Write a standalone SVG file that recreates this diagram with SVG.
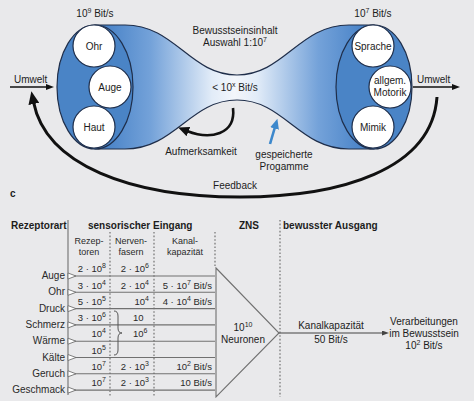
<svg xmlns="http://www.w3.org/2000/svg" width="474" height="401" viewBox="0 0 474 401">
<defs>
<style>
text{font-family:"Liberation Sans",Arial,sans-serif;fill:#1c1c1c}
.t10{font-size:10px}
.lab{font-size:10px;text-anchor:middle}
.b{font-size:10px;font-weight:bold}
.sub{font-size:9px;text-anchor:middle;fill:#2a2a2a}
.v{font-size:9.5px;text-anchor:end;fill:#2a2a2a}
.vs{font-size:9.5px;text-anchor:start;fill:#2a2a2a}
.rl{font-size:10px;text-anchor:end;fill:#2a2a2a}
.node{fill:#fff;stroke:#1f2e4a;stroke-width:1.2}
.ell{fill:#4a84c6;stroke:#1f2e4a;stroke-width:1.2}
.grid{stroke:#707070;stroke-width:1.1;fill:none}
.dot{stroke:#666;stroke-width:1.1;stroke-dasharray:1.6 2;fill:none}
.mk{fill:#fff;stroke:#707070;stroke-width:0.9}
</style>
<linearGradient id="funnelGrad" gradientUnits="userSpaceOnUse" x1="95" y1="0" x2="374" y2="0">
<stop offset="0" stop-color="#3f7cc4"/>
<stop offset="0.2" stop-color="#74a2d9"/>
<stop offset="0.42" stop-color="#e2ecf8"/>
<stop offset="0.5" stop-color="#f3f6fb"/>
<stop offset="0.58" stop-color="#e2ecf8"/>
<stop offset="0.8" stop-color="#74a2d9"/>
<stop offset="1" stop-color="#3f7cc4"/>
</linearGradient>
<marker id="headBig" markerUnits="userSpaceOnUse" markerWidth="13" markerHeight="11" refX="2" refY="5.5" orient="auto">
<path d="M0,0 L13,5.5 L0,11 z" fill="#111"/>
</marker>
<marker id="headMid" markerUnits="userSpaceOnUse" markerWidth="11" markerHeight="10" refX="1.5" refY="5" orient="auto">
<path d="M0,0 L11,5 L0,10 z" fill="#111"/>
</marker>
<marker id="headBlue" markerUnits="userSpaceOnUse" markerWidth="10" markerHeight="9" refX="1.5" refY="4.5" orient="auto">
<path d="M0,0 L10,4.5 L0,9 z" fill="#3d88cc"/>
</marker>
<marker id="headSmall" markerUnits="userSpaceOnUse" markerWidth="8" markerHeight="6" refX="1" refY="3" orient="auto">
<path d="M0,0 L8,3 L0,6 z" fill="#111"/>
</marker>
<marker id="headGrey" markerUnits="userSpaceOnUse" markerWidth="7" markerHeight="5" refX="1" refY="2.5" orient="auto">
<path d="M0,0 L7,2.5 L0,5 z" fill="#444"/>
</marker>
</defs>

<rect x="0" y="0" width="474" height="401" fill="#e9e9eb"/>

<!-- funnel body -->
<g id="funnel">
<path d="M95,25 L125,25 C175,25 190,75 237,75 C284,75 299,25 349,25 L374,25 L374,149 L349,149 C299,149 284,100 237,100 C190,100 175,149 125,149 L95,149 Z" fill="url(#funnelGrad)" stroke="#1f2e4a" stroke-width="1.2"/>
<text class="lab" x="235" y="34">Bewusstseinsinhalt</text>
<text class="lab" x="235" y="46">Auswahl 1:10<tspan dy="-4" font-size="7">7</tspan></text>
<text class="lab" x="235" y="91">&lt; 10<tspan dy="-4" font-size="7">x</tspan><tspan dy="4"> Bit/s</tspan></text>
</g>

<g id="input-ellipse">
<ellipse class="ell" cx="95" cy="87" rx="38" ry="62"/>
<text class="lab" x="95" y="17">10<tspan dy="-4" font-size="7">9</tspan><tspan dy="4"> Bit/s</tspan></text>
</g>
<g id="node-ohr"><circle class="node" cx="94" cy="46" r="21"/><text class="lab" x="94" y="50">Ohr</text></g>
<g id="node-auge"><circle class="node" cx="110" cy="87" r="21"/><text class="lab" x="110" y="91">Auge</text></g>
<g id="node-haut"><circle class="node" cx="94" cy="127" r="21"/><text class="lab" x="94" y="131">Haut</text></g>

<g id="output-ellipse">
<ellipse class="ell" cx="374" cy="87" rx="38" ry="62"/>
<text class="lab" x="373" y="17">10<tspan dy="-4" font-size="7">7</tspan><tspan dy="4"> Bit/s</tspan></text>
</g>
<g id="node-sprache"><circle class="node" cx="373" cy="46" r="21"/><text class="lab" x="373" y="50">Sprache</text></g>
<g id="node-motorik"><circle class="node" cx="390" cy="87" r="21"/><text class="lab" x="390" y="84">allgem.</text><text class="lab" x="390" y="96">Motorik</text></g>
<g id="node-mimik"><circle class="node" cx="373" cy="127" r="21"/><text class="lab" x="373" y="131">Mimik</text></g>

<g id="label-umwelt-in"><text class="t10" x="14" y="83">Umwelt</text></g>
<g id="label-umwelt-out"><text class="t10" x="417" y="83">Umwelt</text></g>
<g id="label-aufmerksamkeit"><text class="lab" x="201" y="155">Aufmerksamkeit</text></g>
<g id="label-programme"><text class="lab" x="284" y="158">gespeicherte</text><text class="lab" x="284" y="170">Progamme</text></g>
<g id="label-feedback"><text class="lab" x="235" y="189">Feedback</text></g>
<text x="10" y="197" font-size="10" font-weight="bold">c</text>

<g id="connectors">
<path d="M10,87 L47,87" stroke="#111" stroke-width="1.5" fill="none" marker-end="url(#headSmall)"/>
<path d="M413,87 L453,87" stroke="#111" stroke-width="1.5" fill="none" marker-end="url(#headSmall)"/>
<path d="M437,97 C432,170 340,197 240,197 C130,197 46,165 33.5,102" stroke="#111" stroke-width="3" fill="none" marker-end="url(#headBig)"/>
<path d="M233,108 C236,135 210,140 187,131" stroke="#111" stroke-width="2.6" fill="none" marker-end="url(#headMid)"/>
<path d="M270,144 L275,127" stroke="#3d88cc" stroke-width="2.6" fill="none" marker-end="url(#headBlue)"/>
<path d="M279,333 L383,333" stroke="#444" stroke-width="1.2" fill="none" marker-end="url(#headGrey)"/>
</g>

<!-- table -->
<g id="table-headers">
<text class="b" x="11" y="229">Rezeptorart</text>
<text class="b" x="88" y="229">sensorischer Eingang</text>
<text class="b" x="239" y="229">ZNS</text>
<text class="b" x="283" y="229">bewusster Ausgang</text>
<text class="sub" x="89" y="244">Rezep-</text>
<text class="sub" x="89" y="255">toren</text>
<text class="sub" x="131" y="244">Nerven-</text>
<text class="sub" x="131" y="255">fasern</text>
<text class="sub" x="185" y="244">Kanal-</text>
<text class="sub" x="185" y="255">kapazität</text>
</g>

<g id="table-grid">
<line class="grid" x1="68" y1="220" x2="68" y2="395"/>
<line class="dot" x1="110" y1="232" x2="110" y2="396"/>
<line class="dot" x1="154" y1="232" x2="154" y2="396"/>
<line class="dot" x1="215" y1="232" x2="215" y2="267"/>
<line class="dot" x1="280" y1="220" x2="280" y2="397"/>
<line class="grid" x1="68" y1="276" x2="215" y2="276"/>
<line class="grid" x1="68" y1="292.3" x2="215" y2="292.3"/>
<line class="grid" x1="68" y1="308.6" x2="215" y2="308.6"/>
<line class="grid" x1="68" y1="324.9" x2="215" y2="324.9"/>
<line class="grid" x1="68" y1="341.2" x2="215" y2="341.2"/>
<line class="grid" x1="68" y1="357.5" x2="215" y2="357.5"/>
<line class="grid" x1="68" y1="373.8" x2="215" y2="373.8"/>
<line class="grid" x1="68" y1="390.1" x2="215" y2="390.1"/>
<path class="grid" d="M216,268 L279,333 L216,397 Z"/>
<path d="M114,311 Q118,311 118,316 L118,328 Q118,333 122,333 Q118,333 118,338 L118,350 Q118,355 114,355" fill="none" stroke="#555" stroke-width="1"/>
</g>

<g id="receptor-labels">
<text class="rl" x="65" y="279">Auge</text>
<polygon class="mk" points="68,273 76,276 68,279"/>
<text class="rl" x="65" y="295.3">Ohr</text>
<polygon class="mk" points="68,289.3 76,292.3 68,295.3"/>
<text class="rl" x="65" y="311.6">Druck</text>
<polygon class="mk" points="68,305.6 76,308.6 68,311.6"/>
<text class="rl" x="65" y="327.9">Schmerz</text>
<polygon class="mk" points="68,321.9 76,324.9 68,327.9"/>
<text class="rl" x="65" y="344.2">Wärme</text>
<polygon class="mk" points="68,338.2 76,341.2 68,344.2"/>
<text class="rl" x="65" y="360.5">Kälte</text>
<polygon class="mk" points="68,354.5 76,357.5 68,360.5"/>
<text class="rl" x="65" y="376.8">Geruch</text>
<polygon class="mk" points="68,370.8 76,373.8 68,376.8"/>
<text class="rl" x="65" y="393.1">Geschmack</text>
<polygon class="mk" points="68,387.1 76,390.1 68,393.1"/>
</g>

<g id="table-values">
<text class="v" x="106" y="272">2 · 10<tspan dy="-4" font-size="7">8</tspan></text>
<text class="v" x="149" y="272">2 · 10<tspan dy="-4" font-size="7">6</tspan></text>

<text class="v" x="106" y="288.5">3 · 10<tspan dy="-4" font-size="7">4</tspan></text>
<text class="v" x="149" y="288.5">2 · 10<tspan dy="-4" font-size="7">4</tspan></text>
<text class="v" x="212" y="288.5">5 · 10<tspan dy="-4" font-size="7">7</tspan><tspan dy="4"> Bit/s</tspan></text>

<text class="v" x="106" y="304.8">5 · 10<tspan dy="-4" font-size="7">5</tspan></text>
<text class="v" x="149" y="304.8">10<tspan dy="-4" font-size="7">4</tspan></text>
<text class="v" x="212" y="304.8">4 · 10<tspan dy="-4" font-size="7">4</tspan><tspan dy="4"> Bit/s</tspan></text>

<text class="v" x="106" y="321.1">3 · 10<tspan dy="-4" font-size="7">6</tspan></text>
<text class="vs" x="133" y="321.1">10</text>

<text class="v" x="106" y="337.4">10<tspan dy="-4" font-size="7">4</tspan></text>
<text class="vs" x="133" y="337.4">10<tspan dy="-4" font-size="7">6</tspan></text>

<text class="v" x="106" y="353.7">10<tspan dy="-4" font-size="7">5</tspan></text>

<text class="v" x="106" y="370">10<tspan dy="-4" font-size="7">7</tspan></text>
<text class="v" x="149" y="370">2 · 10<tspan dy="-4" font-size="7">3</tspan></text>
<text class="v" x="212" y="370">10<tspan dy="-4" font-size="7">2</tspan><tspan dy="4"> Bit/s</tspan></text>

<text class="v" x="106" y="386.3">10<tspan dy="-4" font-size="7">7</tspan></text>
<text class="v" x="149" y="386.3">2 · 10<tspan dy="-4" font-size="7">3</tspan></text>
<text class="v" x="212" y="386.3">10 Bit/s</text>
</g>

<g id="node-neuronen">
<text class="lab" x="243" y="331">10<tspan dy="-4" font-size="7">10</tspan></text>
<text class="lab" x="243" y="343">Neuronen</text>
</g>
<g id="label-kanal">
<text class="lab" x="331" y="329">Kanalkapazität</text>
<text class="lab" x="331" y="343">50 Bit/s</text>
</g>
<g id="node-verarbeitung">
<text class="lab" x="424" y="325">Verarbeitungen</text>
<text class="lab" x="424" y="337">im Bewusstsein</text>
<text class="lab" x="424" y="349">10<tspan dy="-4" font-size="7">2</tspan><tspan dy="4"> Bit/s</tspan></text>
</g>
</svg>
